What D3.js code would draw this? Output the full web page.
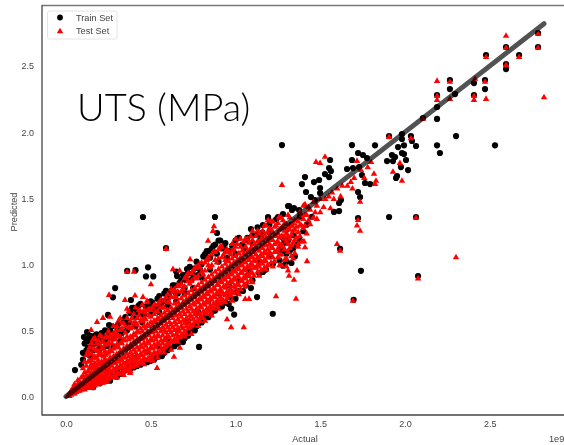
<!DOCTYPE html>
<html><head><meta charset="utf-8">
<script src="https://cdnjs.cloudflare.com/ajax/libs/d3/7.8.5/d3.min.js"></script>
<style>html,body{margin:0;padding:0;background:#fff;overflow:hidden}svg{display:block;filter:blur(0.35px)}</style>
</head><body><div id="chart"></div>
<script>
const xTicks=[0,0.5,1,1.5,2,2.5];
const yTicks=[0,0.5,1,1.5,2,2.5];
const fitLine=[[0,0],[2.82,2.82]];
const legendLabels=["Train Set","Test Set"];
// [actual, predicted], in units of 1e9
const trainOutliers=[[1.274,1.902],[1.687,1.902],[1.823,1.9],[1.959,1.887],[1.994,1.9],[2.065,1.895],[2.189,1.9],[2.206,1.842],[2.301,1.97],[2.531,1.9],[2.189,2.1],[2.189,2.19],[2.295,2.288],[2.265,2.326],[2.265,2.394],[2.189,2.28],[2.407,2.28],[2.407,2.371],[2.472,2.394],[2.472,2.326],[2.596,2.644],[2.596,2.515],[2.596,2.477],[2.478,2.583],[2.673,2.583],[2.785,2.75],[2.785,2.644],[1.906,1.97],[2.035,1.97],[1.982,1.986],[1.982,1.948],[2.106,2.107],[2.041,1.933],[1.906,1.358],[2.065,1.358],[1.723,1.35],[0.454,1.358],[0.879,1.358],[1.192,1.35],[1.251,1.358],[1.723,1.842],[1.687,1.789],[1.752,1.827],[1.776,1.804],[1.558,1.789],[1.923,1.827],[1.941,1.812],[1.894,1.781],[1.929,1.781],[1.982,1.842],[1.994,1.834],[2.006,1.789],[1.976,1.736],[2.018,1.713],[1.953,1.668],[1.947,1.653],[1.41,1.66],[1.392,1.607],[1.463,1.622],[1.493,1.638],[1.528,1.683],[1.552,1.728],[1.563,1.706],[1.552,1.66],[1.658,1.721],[1.693,1.728],[1.729,1.736],[1.746,1.675],[1.794,1.607],[1.764,1.615],[1.723,1.547],[1.735,1.509],[1.622,1.486],[1.611,1.464],[1.611,1.403],[1.581,1.396],[1.416,1.547],[1.445,1.509],[1.469,1.486],[1.499,1.539],[1.316,1.441],[1.345,1.426],[1.375,1.411],[1.091,1.267],[1.162,1.297],[1.31,1.441],[1.192,1.358],[1.127,1.222],[1.068,1.184],[1.333,1.411],[1.499,1.577],
[1.617,1.117],[1.74,0.951],[2.077,0.911],[1.697,0.732],[0.59,1.123],[0.891,1.237],[0.361,0.95],[0.41,0.956],[0.484,0.977],[0.472,0.908],[0.515,0.908],[0.65,0.945],[0.29,0.82],[0.277,0.75],[0.248,0.617],[1.127,0.752],[1.22,0.626],[0.785,0.375],[0.992,0.62],[0.974,0.665],[0.803,0.595],[0.773,0.534],[0.72,0.48],[0.69,0.412],[0.566,0.306],[0.525,0.291],[0.395,0.246],[0.053,0.2],[0.254,0.541],[0.124,0.488],[0.106,0.45],[0.714,0.964],[0.383,0.73],[0.655,0.911],[0.82,1.078],[1.009,0.79],[1.091,0.82],[1.044,0.798],[0.962,0.768],[1.074,0.919],[1.162,0.942]];
const trainBand=[[.1,.28],[.12,.35],[.13,.42],[.15,.38],[.17,.46],[.19,.4],[.22,.45],[.26,.5],[.28,.44],[.3,.53],[.33,.48],[.35,.6],[.37,.56],[.39,.67],[.4,.6],[.42,.64],[.44,.7],[.46,.62],[.48,.68],[.5,.72],[.52,.66],[.54,.74],[.56,.7],[.58,.78],[.6,.74],[.62,.8],[.64,.84],[.66,.78],[.68,.88],[.7,.82],[.72,.93],[.74,.88],[.76,.97],[.78,.92],[.8,1.0],[.82,1.06],[.84,1.1],[.86,1.12],[.88,1.15],[.9,1.18],[.92,1.12],[.94,1.16],[.96,1.1],[.98,1.14],[1,1.18],[1.02,1.2],[1.04,1.15],[1.07,1.2],[1.1,1.22],[1.13,1.28],[1.16,1.24],[1.2,1.3],[1.24,1.34],[1.28,1.38],
[.16,.07],[.2,.1],[.26,.12],[.3,.15],[.34,.19],[.38,.21],[.42,.23],[.46,.26],[.5,.27],[.54,.3],[.58,.33],[.62,.37],[.66,.4],[.7,.44],[.74,.5],[.78,.55],[.82,.6],[.86,.64],[.9,.7],[.94,.71],[.98,.74],[1.02,.8],[1.06,.84],[1.1,.88],[1.14,.93],[1.18,.96],[1.22,1.0],[1.26,1.03],[1.3,1.08],[1.34,1.12],[1.38,1.18],
[.11,.33],[.14,.31],[.16,.4],[.2,.36],[.24,.42],[.28,.38],[.32,.42],[.36,.5],[.41,.53],[.45,.56],[.5,.62],[.55,.64],[.6,.69],[.65,.72],[.7,.78],[.75,.82],[.8,.9],[.85,.96],[.9,1.02],[.95,1.05],[1,1.08],[1.05,1.12],[1.1,1.16],[1.15,1.2],[1.2,1.24],
[.24,.18],[.3,.2],[.36,.25],[.42,.3],[.48,.34],[.54,.38],[.6,.44],[.66,.5],[.72,.57],[.78,.64],[.84,.72],[.9,.78],[.96,.84],[1.02,.88],[1.08,.96],[1.14,1.02],[1.2,1.06],[1.26,1.12],[1.31,1.18],[1.28,1.2],[1.3,1.26],[1.33,1.3],[1.29,1.16],[1.32,1.1],[1.27,1.1],[1.3,1.02],[1.28,.99],[1.33,1.01],[1.35,1.06],[1.36,1.15],[1.4,1.25],[1.42,1.3],[1.45,1.36],[1.38,1.36],[1.34,1.22]];
const trainFringe=[[.09,.24],[.1,.33],[.11,.4],[.12,.43],[.13,.37],[.14,.46],[.15,.44],[.16,.35],[.17,.4],[.18,.47],[.19,.45],[.2,.42],[.21,.48],[.23,.5],[.24,.38],[.25,.46],[.27,.53],[.29,.47],[.31,.55],[.32,.5],[.34,.58],[.36,.55],[.38,.63],[.4,.67],[.41,.64],[.43,.69],[.45,.62],[.47,.68],[.49,.7],[.51,.71],[.53,.68],[.55,.76],[.57,.72],[.59,.8],[.61,.76],[.63,.84],[.65,.78],[.67,.86],[.69,.92],[.71,.88],[.73,.98],[.75,.92],[.77,1.02],[.79,.96],[.81,1.06],[.83,1.1],[.85,1.05],[.87,1.14],[.89,1.08],[.91,1.18],[.93,1.13],
[.28,.16],[.32,.17],[.36,.2],[.4,.22],[.44,.24],[.48,.26],[.52,.28],[.56,.31],[.6,.35],[.64,.38],[.68,.42],[.72,.46],[.76,.5],[.8,.56],[.84,.6],[.88,.65],[.92,.68],[.96,.7],[1,.74]];
const testOutliers=[[2.596,2.735],[2.596,2.644],[2.785,2.75],[2.785,2.644],[2.478,2.575],[2.673,2.575],[2.596,2.515],[2.82,2.27],[2.189,2.394],[2.265,2.387],[2.413,2.41],[2.472,2.387],[2.189,2.28],[2.189,2.25],[2.265,2.258],[2.407,2.28],[2.407,2.25],[2.478,2.258],[2.106,2.107],[1.906,1.97],[2.035,1.96],[1.528,1.82],[1.475,1.781],[1.499,1.773],[1.717,1.789],[1.97,1.773],[1.929,1.706],[1.982,1.638],[1.829,1.638],[1.823,1.615],[1.817,1.691],[1.735,1.479],[1.723,1.342],[2.065,1.358],[1.274,1.607],[1.192,1.342],[1.257,1.365],
[1.717,1.3],[1.735,1.26],[1.599,1.16],[1.617,1.11],[2.301,1.06],[2.077,0.9],[1.693,0.73],[1.422,1.03],[1.404,1.18],[1.41,1.135],[1.369,1.14],[1.363,0.96],[1.345,0.89],[1.316,0.92],[1.357,0.746],
[0.59,1.123],[0.873,1.294],[0.867,1.259],[0.838,1.184],[0.732,1.044],[0.631,0.97],[0.67,0.96],[0.361,0.95],[0.401,0.95],[0.501,0.855],[0.254,0.775],[0.407,0.77],[0.454,0.76],[0.348,0.737],[0.478,0.73],[1.239,0.764],[1.057,0.745],[1.08,0.745],[0.95,0.59],[0.974,0.53],[1.049,0.53],[0.637,0.307],[0.537,0.223],[0.378,0.185],[0.236,0.117],[0.183,0.571],[0.218,0.601],[0.26,0.61],[0.148,0.51],[0.32,0.6],[0.3,0.54],[0.672,0.375],[0.513,0.276],[0.33,0.178],[0.159,0.072],[0.242,0.125]];
const testBand=[[.01,.01],[.02,.01],[.02,.03],[.03,.02],[.03,.05],[.04,.03],[.04,.07],[.05,.03],[.05,.06],[.05,.1],[.06,.04],[.06,.08],[.07,.05],[.07,.1],[.07,.13],[.08,.05],[.08,.08],[.08,.12],[.09,.06],[.09,.1],[.09,.15],[.1,.07],[.1,.11],[.1,.16],[.11,.06],[.11,.09],[.11,.13],[.11,.19],[.12,.08],[.12,.12],[.12,.17],[.12,.24],[.13,.07],[.13,.1],[.13,.15],[.13,.2],[.13,.27],
[.14,.09],[.14,.13],[.14,.17],[.14,.22],[.14,.28],[.14,.38],[.15,.07],[.15,.11],[.15,.15],[.15,.19],[.15,.25],[.15,.33],[.16,.1],[.16,.14],[.16,.18],[.16,.23],[.16,.3],[.16,.44],[.17,.09],[.17,.12],[.17,.16],[.17,.2],[.17,.26],[.17,.36],[.18,.11],[.18,.15],[.18,.19],[.18,.24],[.18,.3],[.18,.41],[.19,.1],[.19,.14],[.19,.18],[.19,.22],[.19,.28],[.19,.35],[.2,.12],[.2,.16],[.2,.21],[.2,.26],[.2,.33],[.2,.47],[.21,.13],[.21,.17],[.21,.22],[.21,.27],[.21,.37],[.22,.11],[.22,.15],[.22,.2],[.22,.25],[.22,.31],[.22,.42],[.23,.14],[.23,.18],[.23,.24],[.23,.29],[.23,.35],[.24,.13],[.24,.17],[.24,.22],[.24,.27],[.24,.33],[.24,.46],
[.26,.15],[.26,.2],[.26,.25],[.26,.3],[.26,.36],[.26,.44],[.28,.16],[.28,.21],[.28,.26],[.28,.31],[.28,.37],[.28,.48],[.3,.18],[.3,.23],[.3,.28],[.3,.33],[.3,.4],[.3,.47],[.32,.18],[.32,.24],[.32,.29],[.32,.35],[.32,.41],[.32,.51],[.34,.2],[.34,.26],[.34,.31],[.34,.37],[.34,.44],[.34,.56],[.36,.22],[.36,.27],[.36,.33],[.36,.39],[.36,.46],[.36,.67],[.38,.24],[.38,.29],[.38,.34],[.38,.4],[.38,.46],[.38,.58],[.4,.24],[.4,.3],[.4,.36],[.4,.42],[.4,.48],[.4,.56],[.42,.27],[.42,.32],[.42,.38],[.42,.44],[.42,.5],[.42,.6],[.44,.27],[.44,.33],[.44,.39],[.44,.45],[.44,.52],[.44,.65],[.46,.3],[.46,.35],[.46,.41],[.46,.47],[.46,.54],[.46,.6],[.48,.29],[.48,.36],[.48,.42],[.48,.49],[.48,.55],[.48,.66],
[.5,.32],[.5,.38],[.5,.44],[.5,.5],[.5,.57],[.5,.66],[.52,.34],[.52,.4],[.52,.46],[.52,.52],[.52,.58],[.52,.63],[.54,.34],[.54,.41],[.54,.47],[.54,.54],[.54,.6],[.54,.7],[.56,.37],[.56,.43],[.56,.5],[.56,.56],[.56,.62],[.56,.68],[.58,.38],[.58,.44],[.58,.51],[.58,.58],[.58,.64],[.58,.73],[.6,.41],[.6,.47],[.6,.53],[.6,.6],[.6,.66],[.6,.78],[.62,.42],[.62,.49],[.62,.55],[.62,.62],[.62,.68],[.62,.76],[.64,.44],[.64,.51],[.64,.57],[.64,.64],[.64,.71],[.64,.82],[.66,.46],[.66,.52],[.66,.59],[.66,.66],[.66,.72],[.66,.8],[.68,.47],[.68,.54],[.68,.61],[.68,.68],[.68,.75],[.68,.86],[.7,.5],[.7,.56],[.7,.63],[.7,.7],[.7,.77],[.7,.9],[.72,.52],[.72,.58],[.72,.65],[.72,.72],[.72,.79],[.72,.88],[.74,.54],[.74,.61],[.74,.67],[.74,.74],[.74,.81],[.74,.94],[.76,.57],[.76,.63],[.76,.7],[.76,.76],[.76,.83],[.76,.91],[.78,.58],[.78,.65],[.78,.72],[.78,.78],[.78,.85],[.78,1.0],
[.8,.61],[.8,.68],[.8,.74],[.8,.8],[.8,.87],[.8,.95],[.82,.64],[.82,.7],[.82,.76],[.82,.82],[.82,.89],[.82,1.02],[.84,.66],[.84,.72],[.84,.78],[.84,.84],[.84,.91],[.84,1.0],[.86,.68],[.86,.74],[.86,.8],[.86,.86],[.86,.93],[.86,1.08],[.88,.7],[.88,.76],[.88,.82],[.88,.88],[.88,.95],[.88,1.04],[.9,.73],[.9,.79],[.9,.85],[.9,.91],[.9,.97],[.9,1.12],[.92,.74],[.92,.8],[.92,.87],[.92,.93],[.92,.99],[.92,1.06],[.94,.77],[.94,.83],[.94,.89],[.94,.95],[.94,1.01],[.94,1.1],[.96,.79],[.96,.85],[.96,.91],[.96,.97],[.96,1.03],[.98,.8],[.98,.87],[.98,.93],[.98,.99],[.98,1.05],[.98,1.11],[1,.83],[1,.89],[1,.95],[1,1.01],[1,1.07],[1,1.14],[1.02,.85],[1.02,.91],[1.02,.97],[1.02,1.03],[1.02,1.09],[1.04,.88],[1.04,.94],[1.04,1.0],[1.04,1.05],[1.04,1.11],[1.06,.9],[1.06,.96],[1.06,1.02],[1.06,1.08],[1.06,1.14],[1.08,.92],[1.08,.98],[1.08,1.04],[1.08,1.1],[1.08,1.17],[1.1,.94],[1.1,1.0],[1.1,1.06],[1.1,1.12],[1.1,1.19],[1.12,.98],[1.12,1.03],[1.12,1.08],[1.12,1.14],[1.12,1.22],[1.14,.99],[1.14,1.05],[1.14,1.11],[1.14,1.17],[1.16,1.01],[1.16,1.07],[1.16,1.13],[1.16,1.19],[1.16,1.26],[1.18,1.03],[1.18,1.09],[1.18,1.15],[1.18,1.21],[1.2,1.1],[1.2,1.16],[1.2,1.22],[1.2,1.28],[1.22,1.06],[1.22,1.13],[1.22,1.19],[1.22,1.25],[1.24,1.1],[1.24,1.17],[1.24,1.22],[1.24,1.3],[1.26,1.08],[1.26,1.15],[1.26,1.21],[1.26,1.27],[1.28,1.14],[1.28,1.22],[1.28,1.28],[1.28,1.34],[1.3,.99],[1.3,1.05],[1.3,1.18],[1.3,1.24],[1.3,1.31],[1.32,1.13],[1.32,1.2],[1.32,1.27],[1.32,1.36],[1.34,1.05],[1.34,1.17],[1.34,1.26],[1.34,1.32],[1.36,1.21],[1.36,1.29],[1.36,1.34],[1.38,1.22],[1.38,1.3],[1.38,1.4],[1.4,1.28],[1.4,1.35],[1.4,1.45],[1.42,1.24],[1.42,1.38],[1.44,1.31],[1.44,1.42],[1.46,1.36],[1.46,1.48],[1.48,1.35],[1.48,1.45],[1.5,1.4],[1.5,1.5],[1.52,1.44],[1.55,1.52],[1.56,1.43],[1.58,1.5],[1.6,1.58],[1.62,1.52],[1.66,1.6],[1.7,1.66],[1.69,1.58],[1.74,1.72],[1.76,1.66],[1.8,1.78]];
const testBandMore=[[.15,.09],[.15,.13],[.15,.17],[.15,.22],[.15,.28],[.17,.11],[.17,.14],[.17,.18],[.17,.23],[.17,.31],[.19,.12],[.19,.16],[.19,.2],[.19,.25],[.19,.32],[.21,.11],[.21,.15],[.21,.2],[.21,.25],[.21,.32],[.21,.42],[.23,.12],[.23,.16],[.23,.21],[.23,.27],[.23,.32],[.23,.4],[.25,.14],[.25,.18],[.25,.23],[.25,.28],[.25,.34],[.25,.41],[.27,.15],[.27,.19],[.27,.24],[.27,.29],[.27,.35],[.27,.45],[.29,.17],[.29,.21],[.29,.26],[.29,.31],[.29,.38],[.29,.5],[.31,.18],[.31,.22],[.31,.27],[.31,.32],[.31,.38],[.31,.46],[.33,.19],[.33,.23],[.33,.28],[.33,.34],[.33,.41],[.33,.52],[.35,.2],[.35,.24],[.35,.3],[.35,.36],[.35,.43],[.35,.54],[.37,.21],[.37,.26],[.37,.31],[.37,.37],[.37,.44],[.37,.53],[.39,.23],[.39,.27],[.39,.32],[.39,.38],[.39,.45],[.39,.6],[.41,.25],[.41,.29],[.41,.34],[.41,.4],[.41,.47],[.41,.57],[.43,.26],[.43,.3],[.43,.36],[.43,.42],[.43,.49],[.43,.62],[.45,.27],[.45,.32],[.45,.38],[.45,.44],[.45,.5],[.45,.58],[.47,.28],[.47,.33],[.47,.39],[.47,.45],[.47,.52],[.47,.64],[.49,.29],[.49,.35],[.49,.41],[.49,.47],[.49,.54],[.49,.62],
[.51,.31],[.51,.37],[.51,.43],[.51,.49],[.51,.55],[.51,.68],[.53,.33],[.53,.38],[.53,.44],[.53,.5],[.53,.57],[.53,.65],[.55,.34],[.55,.4],[.55,.46],[.55,.52],[.55,.59],[.55,.72],[.57,.36],[.57,.41],[.57,.47],[.57,.53],[.57,.6],[.57,.68],[.59,.39],[.59,.43],[.59,.49],[.59,.55],[.59,.62],[.59,.76],[.61,.4],[.61,.45],[.61,.51],[.61,.57],[.61,.64],[.61,.72],[.63,.42],[.63,.47],[.63,.53],[.63,.6],[.63,.66],[.63,.8],[.65,.43],[.65,.48],[.65,.55],[.65,.62],[.65,.68],[.65,.76],[.67,.45],[.67,.5],[.67,.57],[.67,.63],[.67,.7],[.67,.84],[.69,.47],[.69,.52],[.69,.58],[.69,.65],[.69,.72],[.69,.82],[.71,.48],[.71,.54],[.71,.6],[.71,.67],[.71,.74],[.71,.92],[.73,.53],[.73,.56],[.73,.62],[.73,.69],[.73,.76],[.73,.86],[.75,.55],[.75,.59],[.75,.65],[.75,.71],[.75,.78],[.75,.96],[.77,.57],[.77,.61],[.77,.67],[.77,.73],[.77,.8],[.77,.9],[.79,.58],[.79,.63],[.79,.69],[.79,.75],[.79,.82],[.79,.98],
[.81,.6],[.81,.65],[.81,.71],[.81,.77],[.81,.84],[.81,.93],[.83,.63],[.83,.67],[.83,.73],[.83,.79],[.83,.86],[.83,1.04],[.85,.65],[.85,.69],[.85,.75],[.85,.81],[.85,.88],[.85,.98],[.87,.67],[.87,.71],[.87,.77],[.87,.83],[.87,.9],[.87,1.1],[.89,.69],[.89,.73],[.89,.79],[.89,.85],[.89,.92],[.89,1.02],[.91,.71],[.91,.76],[.91,.82],[.91,.88],[.91,.94],[.91,1.14],[.93,.73],[.93,.78],[.93,.84],[.93,.9],[.93,.96],[.93,1.08],[.95,.75],[.95,.8],[.95,.86],[.95,.92],[.95,.98],[.95,1.12],[.97,.77],[.97,.82],[.97,.88],[.97,.94],[.97,1.0],[.97,1.08],[.99,.79],[.99,.84],[.99,.9],[.99,.96],[.99,1.02],[.99,1.12],[1.01,.8],[1.01,.86],[1.01,.92],[1.01,.98],[1.01,1.04],[1.01,1.16],[1.03,.82],[1.03,.88],[1.03,.94],[1.03,1.0],[1.03,1.06],[1.03,1.14],[1.05,.85],[1.05,.91],[1.05,.97],[1.05,1.03],[1.05,1.09],[1.05,1.18],[1.07,.87],[1.07,.93],[1.07,.99],[1.07,1.05],[1.07,1.11],[1.07,1.2],[1.09,.89],[1.09,.95],[1.09,1.01],[1.09,1.07],[1.09,1.13],[1.09,1.22],[1.11,.92],[1.11,.98],[1.11,1.04],[1.11,1.1],[1.11,1.16],[1.13,.95],[1.13,1.0],[1.13,1.06],[1.13,1.12],[1.13,1.18],[1.13,1.26],[1.15,.96],[1.15,1.02],[1.15,1.08],[1.15,1.14],[1.15,1.2],[1.17,.98],[1.17,1.04],[1.17,1.1],[1.17,1.16],[1.17,1.23],[1.17,1.3],[1.19,1.0],[1.19,1.06],[1.19,1.12],[1.19,1.18],[1.19,1.25],[1.21,1.02],[1.21,1.08],[1.21,1.14],[1.21,1.2],[1.21,1.27],[1.21,1.33],[1.23,1.03],[1.23,1.1],[1.23,1.16],[1.23,1.22],[1.23,1.29],[1.25,1.06],[1.25,1.12],[1.25,1.18],[1.25,1.24],[1.25,1.32],[1.27,1.0],[1.27,1.08],[1.27,1.16],[1.27,1.22],[1.27,1.28],[1.27,1.36],[1.29,1.04],[1.29,1.12],[1.29,1.2],[1.29,1.26],[1.29,1.32],[1.31,.96],[1.31,1.1],[1.31,1.16],[1.31,1.22],[1.31,1.28],[1.31,1.38],[1.33,1.07],[1.33,1.15],[1.33,1.23],[1.33,1.3],[1.35,1.09],[1.35,1.19],[1.35,1.27],[1.35,1.34],[1.37,1.16],[1.37,1.25],[1.37,1.33],[1.39,1.18],[1.39,1.3],[1.39,1.38],[1.41,1.3],[1.41,1.38],[1.41,1.46],[1.43,1.34],[1.43,1.44],[1.47,1.4],[1.53,1.5],[1.57,1.55],[1.63,1.6],[1.68,1.63],[1.78,1.74]];
const testFringe=[[.1,.22],[.11,.27],[.12,.32],[.13,.35],[.14,.33],[.15,.41],[.16,.37],[.17,.45],[.18,.36],[.19,.43],[.2,.4],[.21,.46],[.22,.37],[.23,.45],[.24,.4],[.25,.5],[.26,.47],[.27,.41],[.28,.54],[.29,.44],[.3,.51],[.31,.58],[.32,.46],[.33,.56],[.35,.49],[.36,.6],[.37,.65],[.38,.52],[.39,.53],[.4,.63],[.41,.68],[.42,.55],[.43,.66],[.44,.58],[.45,.7],[.46,.66],[.47,.59],[.48,.72],[.49,.67],[.5,.61],[.52,.7],[.54,.65],[.56,.74],[.58,.68],[.6,.72],[.62,.82],[.64,.76],[.66,.85],[.68,.8],[.7,.84],[.72,.94],[.74,.88],[.76,.98],[.78,.92],[.8,1.02],[.82,.96],[.84,1.06],[.86,1.0],[.88,1.1],[.9,1.05],[.92,1.14],[.94,1.04],[.96,1.1],[.98,1.16],[1,1.2],[1.03,1.2],[1.06,1.2],[1.1,1.26],[1.14,1.24],[1.18,1.3],[1.22,1.33],[1.26,1.36],
[.3,.15],[.34,.17],[.38,.2],[.42,.24],[.46,.25],[.5,.28],[.54,.3],[.58,.34],[.62,.36],[.66,.42],[.7,.46],[.74,.48],[.78,.54],[.82,.58],[.86,.62],[.9,.67],[.94,.72],[.98,.73],[1.02,.78],[1.06,.84],[1.1,.87],[1.14,.92],[1.18,.97],[1.22,.99],[1.26,1.0]];

const W=564,H=445;
const margin={left:42,top:5.5,bottom:415};
const x=d3.scaleLinear().domain([-0.1416,2.938]).range([margin.left,W]);
const y=d3.scaleLinear().domain([-0.14,2.958]).range([margin.bottom,margin.top]);
const svg=d3.select("#chart").append("svg").attr("width",W).attr("height",H).style("font-family","'Liberation Sans',Arial,sans-serif");

const xAxis=svg.append("g").attr("transform",`translate(0,${margin.bottom})`)
  .call(d3.axisBottom(x).tickValues(xTicks).tickSize(0).tickPadding(6).tickFormat(d3.format(".1f")));
const yAxis=svg.append("g").attr("transform",`translate(${margin.left},0)`)
  .call(d3.axisLeft(y).tickValues(yTicks).tickSize(0).tickPadding(8).tickFormat(d3.format(".1f")));
[xAxis,yAxis].forEach(a=>{a.select(".domain").remove();a.selectAll("text").attr("font-size",9).attr("fill","#444").attr("font-family","'Liberation Sans',Arial,sans-serif");});

// frame
svg.append("line").attr("x1",42).attr("x2",W).attr("y1",5.5).attr("y2",5.5).attr("stroke","#777").attr("stroke-width",1.3);
svg.append("line").attr("x1",42).attr("x2",W).attr("y1",415).attr("y2",415).attr("stroke","#444").attr("stroke-width",1.3);
svg.append("line").attr("x1",42).attr("x2",42).attr("y1",5).attr("y2",415.5).attr("stroke","#444").attr("stroke-width",1.3);

const tri=d3.symbol().type(d3.symbolTriangle).size(18);
const triShift=1; // matplotlib centres the triangle on its box, d3 on its centroid
svg.append("g").selectAll("circle").data(trainBand.concat(trainFringe,trainOutliers)).join("circle")
  .attr("cx",d=>x(d[0])).attr("cy",d=>y(d[1])).attr("r",3.1).attr("fill","#000");
svg.append("g").selectAll("path").data(testBand.concat(testBandMore,testFringe,testOutliers)).join("path")
  .attr("d",tri).attr("transform",d=>`translate(${x(d[0])},${y(d[1])+triShift})`).attr("fill","#f00");
svg.append("path").attr("d",d3.line().x(d=>x(d[0])).y(d=>y(d[1]))(fitLine))
  .attr("stroke","#000").attr("stroke-opacity",0.68).attr("stroke-width",5).attr("stroke-linecap","round").attr("fill","none");

// legend
const lg=svg.append("g");
lg.append("rect").attr("x",47.5).attr("y",11).attr("width",69.5).attr("height",28).attr("rx",2).attr("fill","#fff").attr("fill-opacity",.9).attr("stroke","#e4e4e4");
lg.append("circle").attr("cx",60).attr("cy",17.5).attr("r",2.9).attr("fill","#000");
lg.append("path").attr("d",tri).attr("transform","translate(60,31.5)").attr("fill","#f00");
lg.selectAll("text").data(legendLabels).join("text").attr("x",76).attr("y",(d,i)=>20.5+i*13.2).attr("font-size",9.2).attr("fill","#444").text(d=>d);

// annotations
svg.append("text").attr("x",305).attr("y",442).attr("text-anchor","middle").attr("font-size",9.2).attr("fill","#444").text("Actual");
svg.append("text").attr("transform","translate(17,212) rotate(-90)").attr("text-anchor","middle").attr("font-size",9.2).attr("fill","#444").text("Predicted");
svg.append("text").attr("x",549).attr("y",442).attr("font-size",9.2).attr("fill","#444").text("1e9");
svg.append("text").attr("x",77).attr("y",120.5).attr("font-size",38).attr("font-weight",300).attr("font-family","Lato,'Open Sans',sans-serif").attr("fill","#000").text("UTS (MPa)");
</script></body></html>
